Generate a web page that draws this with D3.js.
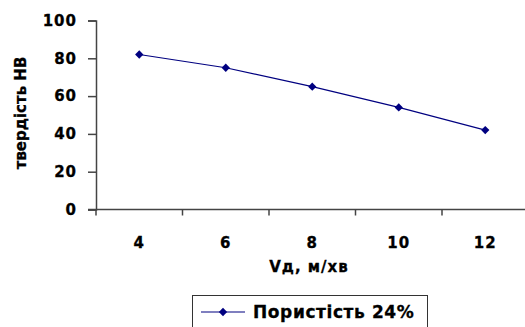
<!DOCTYPE html>
<html>
<head>
<meta charset="utf-8">
<script src="https://cdn.jsdelivr.net/npm/d3@7"></script>
<style>
  html, body { margin: 0; padding: 0; background: #fff; }
  svg { display: block; }
  text { font-family: "DejaVu Sans", Verdana, sans-serif; font-weight: bold; fill: #000; stroke: #000; stroke-width: 0.3px; }
</style>
</head>
<body>
<div id="chart"></div>
<script>
// Hardness vs. speed, porosity 24%
const categories = ["4", "6", "8", "10", "12"];
const hardness = [82, 75, 65, 54, 42];
const yTicks = [0, 20, 40, 60, 80, 100];
const seriesName = "Пористість 24%";
const xTitle = "Vд, м/хв";
const yTitle = "твердість НВ";

const W = 525, H = 327;
const plot = { left: 96, top: 20.5, bottom: 209.5, bandWidth: 86.5 };
const navy = "#000080";
const axisColor = "#444";
const font = '"DejaVu Sans", Verdana, sans-serif';

const svg = d3.select("#chart").append("svg")
  .attr("width", W).attr("height", H);

const x = d3.scaleBand()
  .domain(categories)
  .range([plot.left, plot.left + plot.bandWidth * categories.length]);

const y = d3.scaleLinear()
  .domain([0, 100])
  .range([plot.bottom, plot.top]);

// Y axis
const yAxis = svg.append("g")
  .attr("transform", `translate(${plot.left},0)`)
  .call(d3.axisLeft(y).tickValues(yTicks).tickSize(8).tickPadding(11));
yAxis.select(".domain").attr("stroke", axisColor).attr("stroke-width", 1.5);
yAxis.selectAll(".tick line").attr("stroke", axisColor).attr("stroke-width", 1.5);
yAxis.selectAll(".tick text")
  .style("font-size", "15px").style("font-weight", "bold")
  .style("font-family", font)
  .style("letter-spacing", "1px")
  .attr("fill", "#000");

// X axis with ticks between categories
const xAxis = svg.append("g")
  .attr("transform", `translate(0,${plot.bottom})`);
xAxis.append("line")
  .attr("x1", plot.left - 8).attr("x2", W)
  .attr("stroke", axisColor).attr("stroke-width", 1.5);
xAxis.selectAll(".xtick")
  .data(categories)
  .join("line")
  .attr("class", "xtick")
  .attr("x1", d => x(d)).attr("x2", d => x(d))
  .attr("y1", 0).attr("y2", 6)
  .attr("stroke", axisColor).attr("stroke-width", 1.5);
xAxis.selectAll(".xlabel")
  .data(categories)
  .join("text")
  .attr("class", "xlabel")
  .attr("x", d => x(d) + x.bandwidth() / 2)
  .attr("y", 38)
  .attr("text-anchor", "middle")
  .style("font-size", "15px")
  .style("letter-spacing", "1px")
  .text(d => d);

// Axis titles
svg.append("text")
  .attr("x", 309).attr("y", 272)
  .attr("text-anchor", "middle")
  .style("font-size", "15px")
  .style("letter-spacing", "1px")
  .text(xTitle);

svg.append("text")
  .attr("transform", "translate(26,113) rotate(-90)")
  .attr("text-anchor", "middle")
  .style("font-size", "15px")
  .text(yTitle);

// Series line and markers
const cx = (d, i) => x(categories[i]) + x.bandwidth() / 2;
const line = d3.line()
  .x((d, i) => cx(d, i))
  .y(d => y(d));

svg.append("path")
  .datum(hardness)
  .attr("d", line)
  .attr("fill", "none")
  .attr("stroke", navy)
  .attr("stroke-width", 1.2);

const diamond = d3.symbol().type(d3.symbolDiamond2).size(44);
svg.selectAll(".pt")
  .data(hardness)
  .join("path")
  .attr("class", "pt")
  .attr("d", diamond)
  .attr("transform", (d, i) => `translate(${cx(d, i)},${y(d)})`)
  .attr("fill", navy);

// Legend
const lg = svg.append("g").attr("transform", "translate(192,295)");
lg.append("rect")
  .attr("x", 0.5).attr("y", 0.5)
  .attr("width", 235).attr("height", 40)
  .attr("fill", "#fff")
  .attr("stroke", "#333").attr("stroke-width", 1);
lg.append("line")
  .attr("x1", 9).attr("x2", 53).attr("y1", 17).attr("y2", 17)
  .attr("stroke", navy).attr("stroke-width", 1.2);
lg.append("path")
  .attr("d", diamond)
  .attr("transform", "translate(31,17)")
  .attr("fill", navy);
lg.append("text")
  .attr("x", 61).attr("y", 23)
  .style("font-size", "17px")
  .style("letter-spacing", "0.6px")
  .text(seriesName);
</script>
</body>
</html>
